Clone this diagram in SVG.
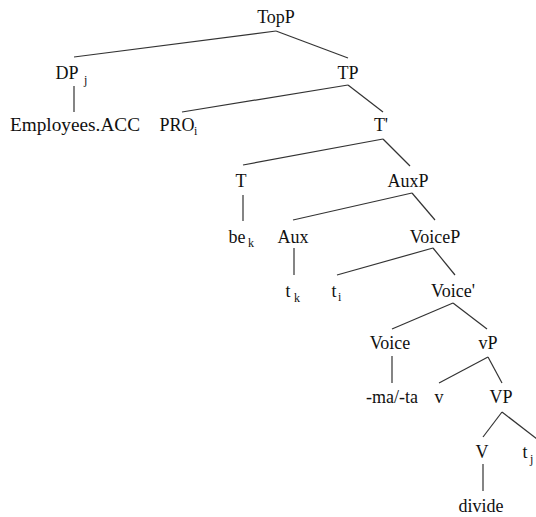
<svg xmlns="http://www.w3.org/2000/svg" width="536" height="517" viewBox="0 0 536 517">
<style>
text{font-family:"Liberation Serif","DejaVu Serif",serif;font-size:18px;fill:#111;text-anchor:middle}
.s{font-size:12px;text-anchor:start}
#edges line{stroke:#333;stroke-width:1.2}
</style>
<rect width="536" height="517" fill="#fff"/>
<g id="edges">
<line x1="276" y1="31" x2="74" y2="57"/>
<line x1="276" y1="31" x2="348" y2="58"/>
<line x1="74" y1="86" x2="74" y2="112"/>
<line x1="348" y1="85" x2="182" y2="112"/>
<line x1="348" y1="85" x2="383" y2="112"/>
<line x1="383" y1="139" x2="243" y2="165"/>
<line x1="383" y1="139" x2="410" y2="166"/>
<line x1="243" y1="195" x2="243" y2="221"/>
<line x1="412" y1="193" x2="293" y2="220"/>
<line x1="412" y1="193" x2="435" y2="220"/>
<line x1="294" y1="248" x2="294" y2="275"/>
<line x1="433" y1="248" x2="337" y2="275"/>
<line x1="433" y1="248" x2="455" y2="275"/>
<line x1="453" y1="303" x2="392" y2="329"/>
<line x1="453" y1="303" x2="487" y2="329"/>
<line x1="392" y1="356" x2="392" y2="383"/>
<line x1="488" y1="357" x2="439" y2="383"/>
<line x1="488" y1="357" x2="502" y2="383"/>
<line x1="502" y1="412" x2="483" y2="437"/>
<line x1="502" y1="412" x2="537" y2="439"/>
<line x1="483" y1="464" x2="483" y2="491"/>
</g>
<g id="TopP"><text x="276" y="23">TopP</text></g>
<g id="DPj"><text x="67" y="79">DP</text><text class="s" x="84" y="84">j</text></g>
<g id="Employees"><text x="75" y="131" textLength="130" lengthAdjust="spacingAndGlyphs">Employees.ACC</text></g>
<g id="TP"><text x="348" y="79">TP</text></g>
<g id="PROi"><text x="177" y="131">PRO</text><text class="s" x="194" y="135">i</text></g>
<g id="Tbar"><text x="381" y="131">T'</text></g>
<g id="T"><text x="241" y="187">T</text></g>
<g id="AuxP"><text x="408" y="187">AuxP</text></g>
<g id="bek"><text x="237" y="243">be</text><text class="s" x="248" y="247">k</text></g>
<g id="Aux"><text x="293" y="243">Aux</text></g>
<g id="VoiceP"><text x="435" y="243">VoiceP</text></g>
<g id="tk"><text x="288" y="297">t</text><text class="s" x="294" y="302">k</text></g>
<g id="ti"><text x="334" y="297">t</text><text class="s" x="338" y="301">i</text></g>
<g id="Voicebar"><text x="453" y="297">Voice'</text></g>
<g id="Voice"><text x="390" y="349">Voice</text></g>
<g id="vP"><text x="488" y="349">vP</text></g>
<g id="mata"><text x="392" y="403">-ma/-ta</text></g>
<g id="v"><text x="439" y="403">v</text></g>
<g id="VP"><text x="501" y="403">VP</text></g>
<g id="V"><text x="482" y="458">V</text></g>
<g id="tj"><text x="525" y="458">t</text><text class="s" x="530" y="463">j</text></g>
<g id="divide"><text x="481" y="512">divide</text></g>
</svg>
